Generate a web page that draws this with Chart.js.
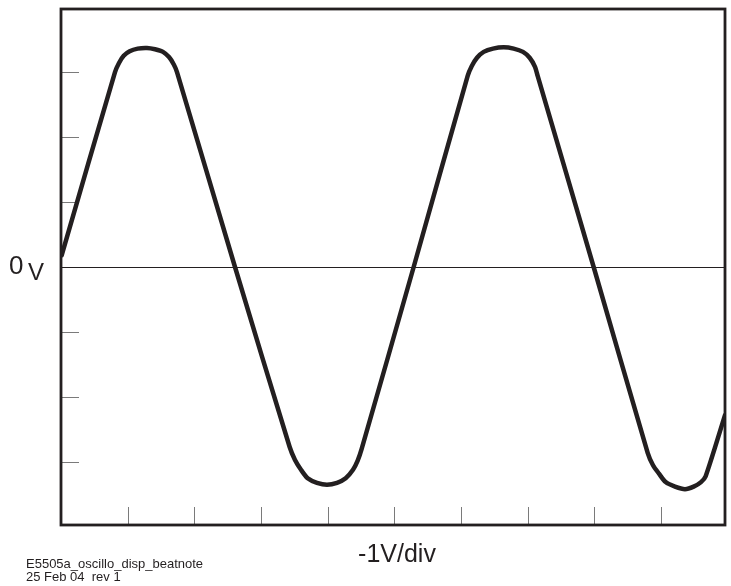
<!DOCTYPE html>
<html>
<head>
<meta charset="utf-8">
<title>E5505a oscillo disp beatnote</title>
<script src="https://cdn.jsdelivr.net/npm/chart.js@4/dist/chart.umd.min.js"></script>
<style>
    html, body { margin: 0; padding: 0; background: #fff; }
    #wrap { position: relative; width: 731px; height: 586px; }
</style>
</head>
<body>
<div id="wrap"><canvas id="scope" width="731" height="586"></canvas></div>
<script>
// Trace, in divisions (x: time div, y: volt div)
const traceX = [0.01, 0.81, 0.87, 0.94, 1.03, 1.15, 1.29, 1.41, 1.53, 1.62, 1.69, 1.74,
    2.61, 3.43, 3.51, 3.60, 3.70, 3.84, 3.99, 4.14, 4.27, 4.38, 4.45, 4.51,
    5.29, 6.10, 6.16, 6.24, 6.34, 6.48, 6.64, 6.79, 6.93, 7.03, 7.11, 7.15,
    7.99, 8.80, 8.88, 8.97, 9.07, 9.21, 9.36, 9.49, 9.60, 9.67, 9.96];
const traceY = [0.18, 3.00, 3.14, 3.25, 3.32, 3.36, 3.37, 3.35, 3.31, 3.23, 3.12, 3.00,
    0, -2.77, -2.97, -3.12, -3.25, -3.32, -3.35, -3.32, -3.25, -3.12, -2.98, -2.80,
    0, 2.94, 3.09, 3.22, 3.31, 3.36, 3.38, 3.36, 3.31, 3.22, 3.08, 2.94,
    0, -2.86, -3.05, -3.18, -3.31, -3.38, -3.42, -3.38, -3.31, -3.22, -2.28];

// graticule ticks (divisions)
const xTicks = [1, 2, 3, 4, 5, 6, 7, 8, 9];
const yTicks = [-3, -2, -1, 1, 2, 3];

const ink = '#231f20';

// frame, inner ticks, zero line and labels
const scopePlugin = {
    id: 'scopeFrame',
    beforeDatasetsDraw(chart) {
        const ctx = chart.ctx;
        const a = chart.chartArea;
        const xs = chart.scales.x;
        const ys = chart.scales.y;
        ctx.save();
        // ticks
        ctx.strokeStyle = '#7a7a7a';
        ctx.lineWidth = 1;
        ctx.beginPath();
        xTicks.forEach(function(t) {
            const px = Math.round(xs.getPixelForValue(t)) + 0.5;
            ctx.moveTo(px, a.bottom);
            ctx.lineTo(px, a.bottom - 18);
        });
        yTicks.forEach(function(t) {
            const py = Math.round(ys.getPixelForValue(t)) + 0.5;
            ctx.moveTo(a.left, py);
            ctx.lineTo(a.left + 18, py);
        });
        ctx.stroke();
        // zero line
        const zy = Math.round(ys.getPixelForValue(0)) + 0.5;
        ctx.strokeStyle = ink;
        ctx.beginPath();
        ctx.moveTo(a.left, zy);
        ctx.lineTo(a.right, zy);
        ctx.stroke();
        ctx.restore();
    },
    afterDatasetsDraw(chart) {
        const ctx = chart.ctx;
        const a = chart.chartArea;
        const zy = chart.scales.y.getPixelForValue(0);
        ctx.save();
        ctx.strokeStyle = ink;
        ctx.lineWidth = 2.8;
        ctx.strokeRect(a.left, a.top, a.right - a.left, a.bottom - a.top);

        ctx.fillStyle = ink;
        ctx.textBaseline = 'alphabetic';
        ctx.font = '26px "Liberation Sans", Arial, sans-serif';
        ctx.textAlign = 'left';
        ctx.fillText('0', 9, zy + 7);
        ctx.font = '24px "Liberation Sans", Arial, sans-serif';
        ctx.fillText('V', 28, zy + 13);

        ctx.textAlign = 'center';
        ctx.font = '25px "Liberation Sans", Arial, sans-serif';
        ctx.fillText('-1V/div', 397, 562);

        ctx.textAlign = 'left';
        ctx.font = '13px "Liberation Sans", Arial, sans-serif';
        ctx.fillText('E5505a_oscillo_disp_beatnote', 26, 568);
        ctx.fillText('25 Feb 04  rev 1', 26, 581);
        ctx.restore();
    }
};

const points = traceX.map(function(x, i) {
    return { x: x, y: traceY[i] };
});

new Chart(document.getElementById('scope').getContext('2d'), {
    type: 'scatter',
    data: {
        datasets: [{
            data: points,
            showLine: true,
            borderColor: ink,
            borderWidth: 4.5,
            borderJoinStyle: 'round',
            borderCapStyle: 'round',
            pointRadius: 0,
            tension: 0.25
        }]
    },
    options: {
        responsive: false,
        animation: false,
        layout: {
            padding: { left: 61, top: 9, right: 6, bottom: 61 }
        },
        scales: {
            x: { type: 'linear', min: 0, max: 9.96, display: false },
            y: { type: 'linear', min: -3.97, max: 3.97, display: false }
        },
        plugins: {
            legend: { display: false },
            tooltip: { enabled: false }
        }
    },
    plugins: [scopePlugin]
});
</script>
</body>
</html>
